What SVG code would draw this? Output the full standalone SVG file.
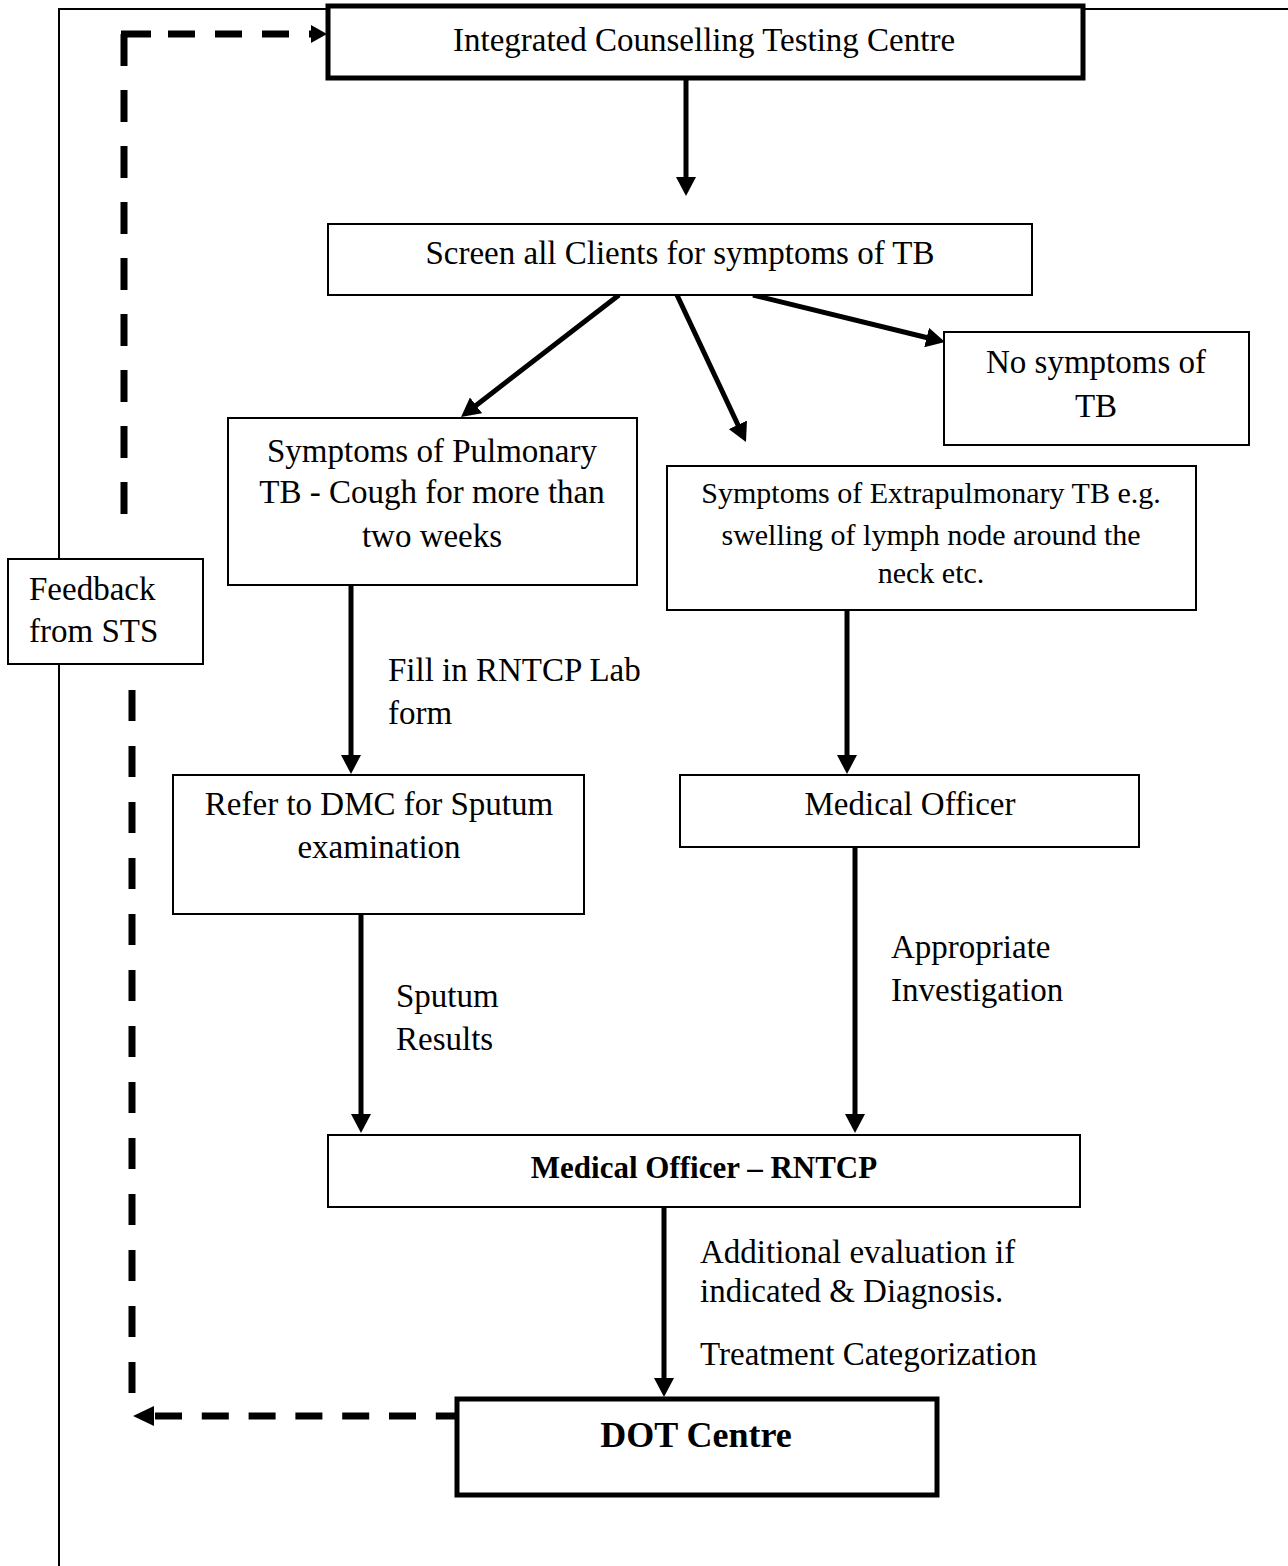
<svg xmlns="http://www.w3.org/2000/svg" width="1288" height="1566" viewBox="0 0 1288 1566">
<style>
text{font-family:"Liberation Serif","Times New Roman",serif;fill:#000;font-size:33px}
.c{text-anchor:middle}
.s{font-size:30px}
.b{font-weight:bold;font-size:31px}
.big{font-weight:bold;font-size:36px}
.box{fill:#fff;stroke:#000;stroke-width:2}
.thick{fill:#fff;stroke:#000;stroke-width:5}
.arr{stroke:#000;stroke-width:5;fill:none;marker-end:url(#ah)}
.dash{stroke:#000;stroke-width:7;fill:none}
.frame{stroke:#000;stroke-width:2;fill:none}
</style>
<defs>
<marker id="ah" markerUnits="userSpaceOnUse" markerWidth="20" markerHeight="20" refX="3" refY="10" orient="auto">
<path d="M0,0 L19,10 L0,20 z" fill="#000"/>
</marker>
</defs>
<rect width="1288" height="1566" fill="#fff"/>
<path class="frame" d="M59,1566 V9 H1288"/>
<g id="connectors">
<line class="arr" x1="686" y1="80" x2="686" y2="180"/>
<line class="arr" x1="619" y1="295" x2="473.7" y2="407.2"/>
<line class="arr" x1="677" y1="295" x2="739.2" y2="427.5"/>
<line class="arr" x1="753" y1="295" x2="929.5" y2="338.2"/>
<line class="arr" x1="351" y1="586" x2="351" y2="758"/>
<line class="arr" x1="847" y1="610" x2="847" y2="758"/>
<line class="arr" x1="361" y1="914" x2="361" y2="1117"/>
<line class="arr" x1="855" y1="847" x2="855" y2="1117"/>
<line class="arr" x1="664" y1="1207" x2="664" y2="1381"/>
<path class="dash" d="M124,34 V515" stroke-dasharray="32 24"/>
<path class="dash" d="M121,34 H314" stroke-dasharray="30 17 27 20 27 20 27 20 27 20"/>
<polygon points="327,34 311,25 311,43" fill="#000"/>
<path class="dash" d="M132,1393 V600" stroke-dasharray="31 25"/>
<path class="dash" d="M155,1416 H456" stroke-dasharray="27 19.8"/>
<polygon points="133,1416 154,1406 154,1426" fill="#000"/>
</g>
<g id="ictc">
<rect class="thick" x="328" y="6" width="755" height="72"/>
<text class="c" x="704" y="51">Integrated Counselling Testing Centre</text>
</g>
<g id="screen">
<rect class="box" x="328" y="224" width="704" height="71"/>
<text class="c" x="680" y="264">Screen all Clients for symptoms of TB</text>
</g>
<g id="nosymptoms">
<rect class="box" x="944" y="332" width="305" height="113"/>
<text class="c" x="1096" y="373">No symptoms of</text>
<text class="c" x="1096" y="417">TB</text>
</g>
<g id="pulmonary">
<rect class="box" x="228" y="418" width="409" height="167"/>
<text class="c" x="432" y="462">Symptoms of Pulmonary</text>
<text class="c" x="432" y="503">TB - Cough for more than</text>
<text class="c" x="432" y="547">two weeks</text>
</g>
<g id="extrapulmonary">
<rect class="box" x="667" y="466" width="529" height="144"/>
<text class="c s" x="931" y="503">Symptoms of Extrapulmonary TB e.g.</text>
<text class="c s" x="931" y="545">swelling of lymph node around the</text>
<text class="c s" x="931" y="583">neck etc.</text>
</g>
<g id="label-lab">
<text x="388" y="681">Fill in RNTCP Lab</text>
<text x="388" y="724">form</text>
</g>
<g id="refer">
<rect class="box" x="173" y="775" width="411" height="139"/>
<text class="c" x="379" y="815">Refer to DMC for Sputum</text>
<text class="c" x="379" y="858">examination</text>
</g>
<g id="medofficer">
<rect class="box" x="680" y="775" width="459" height="72"/>
<text class="c" x="910" y="815">Medical Officer</text>
</g>
<g id="label-sputum">
<text x="396" y="1007">Sputum</text>
<text x="396" y="1050">Results</text>
</g>
<g id="label-invest">
<text x="891" y="958">Appropriate</text>
<text x="891" y="1001">Investigation</text>
</g>
<g id="mo-rntcp">
<rect class="box" x="328" y="1135" width="752" height="72"/>
<text class="c b" x="704" y="1178">Medical Officer – RNTCP</text>
</g>
<g id="label-eval">
<text x="700" y="1263">Additional evaluation if</text>
<text x="700" y="1302">indicated &amp; Diagnosis.</text>
<text x="700" y="1365">Treatment Categorization</text>
</g>
<g id="dot">
<rect class="thick" x="457" y="1399" width="480" height="96"/>
<text class="c big" x="696" y="1447">DOT Centre</text>
</g>
<g id="feedback">
<rect class="box" x="8" y="559" width="195" height="105"/>
<text x="29" y="600">Feedback</text>
<text x="29" y="642">from STS</text>
</g>
</svg>
